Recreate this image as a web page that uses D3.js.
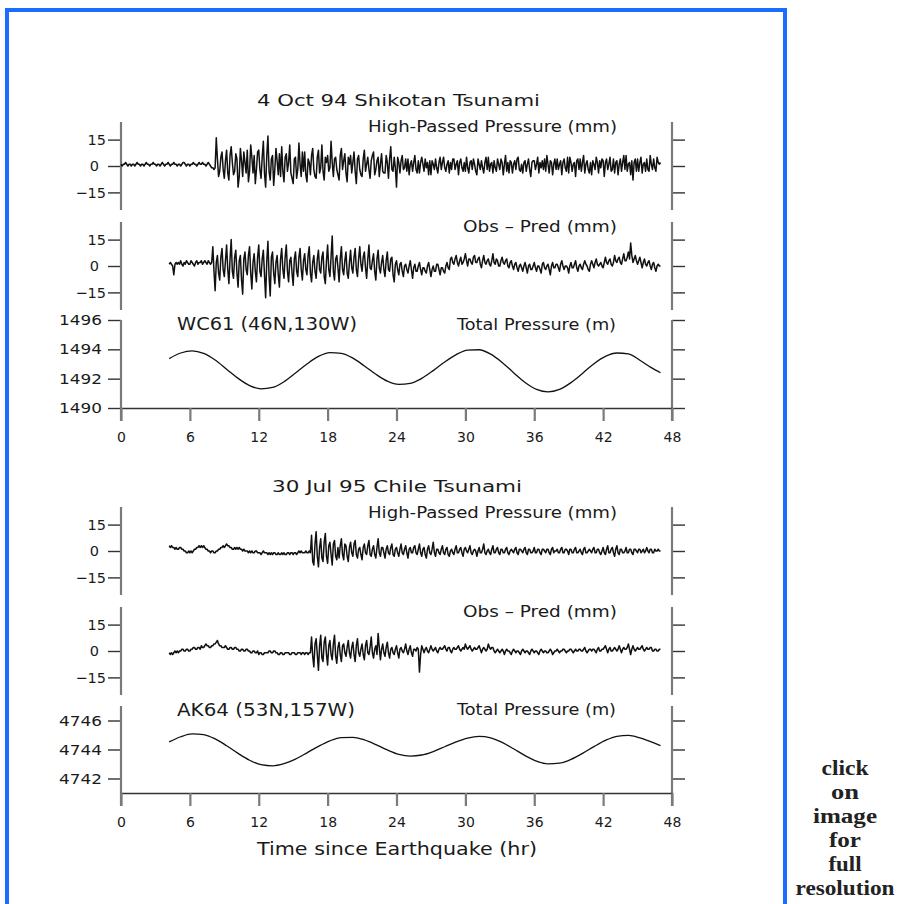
<!DOCTYPE html>
<html>
<head>
<meta charset="utf-8">
<script src="https://cdn.jsdelivr.net/npm/d3@7"></script>
<style>
  body { margin: 0; background: #fff; }
  svg text { font-family: "DejaVu Sans", sans-serif; fill: #1a1a1a; }
</style>
</head>
<body>
<svg id="chart" width="897" height="904"></svg>
<script>
// tick values
var hourTicks = [0, 6, 12, 18, 24, 30, 36, 42, 48];
var mmTicks = [15, 0, -15];
var wcTicks = [1496, 1494, 1492, 1490];
var akTicks = [4746, 4744, 4742];

// hours of the total pressure samples
var tideHours = [4.2, 5.2, 6.2, 7.2, 8.2, 9.2, 10.2, 11.2, 12.2, 13.2, 14.2, 15.2, 16.2, 17.2, 18.2,
  19.2, 20.2, 21.2, 22.2, 23.2, 24.2, 25.2, 26.2, 27.2, 28.2, 29.2, 30.2, 31.2, 32.2, 33.2,
  34.2, 35.2, 36.2, 37.2, 38.2, 39.2, 40.2, 41.2, 42.2, 43.2, 44.2, 45.2, 46.2, 47.0];

// Shikotan, high-passed pressure (mm), every 0.1 h from 0 to 47 h (one row = one hour)
var shikotanHP = [
  1,0,1,1,2,1,0,1,1,0,
  1,1,0,1,2,1,1,0,1,1,
  0,1,2,1,1,0,1,1,2,1,
  1,0,1,1,0,1,2,1,0,1,
  1,2,1,0,1,1,2,1,1,0,
  1,1,0,1,2,2,1,0,1,1,
  0,1,1,2,1,1,0,1,2,1,
  1,2,1,1,0,1,2,1,0,-1,
  -1,-2,-1,16,4,-6,-3,5,8,-2,
  -7,3,9,-4,-8,6,11,2,-5,-3,
  7,4,-12,-6,10,3,-6,8,2,-4,
  9,-9,-3,12,5,-4,6,-10,-2,8,
  9,-2,-7,5,14,-4,-12,6,17,-3,
  -8,4,6,-11,-2,10,3,-5,7,-6,
  11,-3,-9,5,7,-3,2,12,-4,-7,
  -10,4,5,-7,-2,13,1,-6,8,-3,
  8,-5,-9,4,2,-5,6,10,-2,-6,
  -7,5,9,-4,-1,12,-3,-8,5,2,
  6,-3,-1,14,2,-6,4,5,-2,-5,
  -8,6,10,-2,3,7,-4,-9,5,1,
  6,-4,2,8,-3,-10,4,6,-2,-5,
  -6,4,9,-3,1,5,-2,-7,3,6,
  8,-5,-2,3,5,-6,1,7,-3,-4,
  -4,6,2,-7,4,11,-2,-3,5,-1,
  -12,5,2,-4,3,6,-2,-1,4,-3,
  4,-5,1,3,-3,2,6,-2,-4,3,
  -4,2,5,1,-3,4,-1,2,-5,3,
  -5,3,1,-2,4,-1,-4,2,5,-2,
  2,5,-1,-3,1,3,-4,2,-2,4,
  4,-2,1,3,-5,2,4,-1,-3,2,
  -3,5,-1,-4,2,3,-2,4,1,-3,
  -5,4,1,-2,3,-1,-4,2,5,-2,
  5,-3,1,2,-4,3,-1,-3,4,1,
  -2,4,2,-5,1,6,-3,2,-4,3,
  2,-4,1,3,-2,4,5,-2,-3,1,
  -4,2,3,-3,1,4,-2,-6,2,3,
  3,-2,1,5,-4,2,-1,3,-2,4,
  -3,6,1,-4,3,2,-5,1,4,-2,
  4,-2,1,3,-5,2,4,-1,-3,5,
  -4,5,2,-3,1,2,-6,3,4,-2,
  4,-3,2,6,-4,1,3,-2,-4,2,
  -5,3,1,-2,5,2,-4,3,-1,4,
  3,-6,2,4,-2,1,5,-3,-2,4,
  -4,2,3,-5,1,4,-3,2,6,-2,
  6,-3,1,2,-5,3,-8,2,4,-3,
  4,-3,2,5,-4,1,2,-3,4,-2,
  -3,6,1,-2,4,-1,-3,5,2,1,
  2
];

// Shikotan, observed minus predicted (mm), every 0.1 h from 4.2 to 47 h
var shikotanResid = [
  1,2,1,0,-5,1,2,1,
  2,1,3,1,0,2,1,3,2,1,
  1,3,2,1,0,2,3,1,2,2,
  3,1,2,3,2,1,3,2,1,2,
  11,-3,-14,2,6,-4,-8,5,10,-2,
  -6,3,12,-2,-10,4,15,-3,-7,5,
  9,-4,-12,3,6,-8,-16,4,8,-2,
  -5,6,11,-4,-13,2,7,-3,-9,5,
  12,-3,-6,4,9,-5,-18,3,14,-6,
  -17,5,8,-4,-10,2,6,-5,-12,4,
  10,-2,-7,5,12,-3,-9,3,5,-4,
  -11,4,8,-3,-6,5,10,-2,-8,3,
  7,-2,-5,6,11,-4,-9,2,6,-3,
  -7,4,9,-2,-4,5,8,-6,-10,3,
  12,-2,-6,5,17,-3,-8,4,6,-1,
  -9,4,11,-2,-5,3,8,-4,-7,2,
  9,-1,-4,5,10,-2,-6,4,11,1,
  -3,5,8,-1,-7,4,12,-1,-2,3,
  7,-3,-8,4,9,-1,-4,2,6,-2,
  -6,3,8,-2,-3,4,5,-5,-9,1,
  3,-2,-5,1,2,-3,-6,0,1,-2,
  -4,0,3,-2,-7,-1,1,-3,-3,0,
  2,-2,-5,-1,-1,-3,-4,0,2,-2,
  -6,-2,0,-3,-3,1,1,-2,-5,-1,
  -1,-3,-4,0,2,-1,-2,4,5,2,
  1,4,6,2,0,3,5,1,2,4,
  7,3,0,4,4,2,1,5,6,2,
  2,4,5,1,-1,3,6,2,1,3,
  4,1,0,3,7,2,1,4,3,0,
  0,3,5,2,1,3,4,0,-1,2,
  3,0,-2,1,2,-1,-3,0,1,-1,
  -3,0,2,-1,-4,0,1,-2,-2,0,
  2,-1,-3,0,0,-2,-4,1,2,-1,
  -2,0,1,-2,-5,0,2,-1,-1,1,
  1,-1,-3,1,3,0,-2,0,0,-1,
  -4,0,2,-1,-1,1,3,-1,-3,0,
  1,-1,-2,1,3,1,0,-2,-3,1,
  3,1,-1,2,4,1,0,1,2,0,
  -1,2,5,2,1,3,4,1,0,2,
  6,3,2,4,5,2,1,4,7,3,
  3,5,8,4,13,6,2,4,6,3,
  1,3,5,2,-1,2,4,1,0,2,
  3,0,-2,1,2,-1,-3,0,1,0,
  0
];

// WC61 total pressure (m) at tideHours
var wc61Total = [1493.37, 1493.75, 1493.90, 1493.72, 1493.27, 1492.65, 1492.02, 1491.53, 1491.31,
  1491.40, 1491.79, 1492.38, 1493.00, 1493.52, 1493.78, 1493.73, 1493.40, 1492.87, 1492.30,
  1491.83, 1491.61, 1491.68, 1492.02, 1492.55, 1493.14, 1493.64, 1493.95, 1493.97, 1493.67,
  1493.11, 1492.41, 1491.74, 1491.27, 1491.10, 1491.27, 1491.73, 1492.36, 1493.02, 1493.52,
  1493.75, 1493.69, 1493.26, 1492.75, 1492.40];

// Chile, high-passed pressure (mm), every 0.1 h from 4.2 to 47 h
var chileHP = [
  3,2,3,2,2,1,2,1,
  1,2,2,1,1,0,0,-1,-1,0,
  -1,0,-1,0,1,1,2,2,3,2,
  3,2,3,2,1,1,0,0,-1,0,
  0,-1,-1,0,0,1,1,2,2,3,
  2,3,4,3,3,2,2,1,1,2,
  1,2,1,2,1,1,0,1,0,0,
  0,-1,0,-1,0,-1,-1,0,0,-1,
  -1,-1,-2,-1,0,-1,-1,-1,-2,-1,
  -2,-1,-2,-1,-1,-2,-2,-1,-2,-2,
  -1,-2,-1,-2,-2,-1,-1,-2,-1,-1,
  -2,-1,-1,-2,-1,0,-1,0,-1,-1,
  -1,0,-1,-1,0,-1,9,-6,-8,4,
  11,-3,-9,2,7,-4,-6,5,10,-3,
  -7,3,5,-2,-8,4,6,-3,-5,2,
  -4,3,7,-2,-5,4,3,-3,-6,2,
  5,-1,-3,4,6,-2,-4,1,2,-2,
  -5,2,4,-1,-2,3,6,-2,-3,1,
  3,-2,-4,2,7,-1,-3,2,2,-1,
  -4,1,3,-1,-2,2,4,-2,-3,1,
  2,-1,-3,1,4,-1,-2,1,3,-1,
  -4,1,2,-1,-1,2,3,-1,-2,1,
  4,-1,-3,1,2,-2,-4,1,3,-1,
  -2,1,5,-1,-3,1,1,-1,-2,1,
  3,-1,-2,1,2,-2,-3,0,1,-1,
  -2,1,3,-1,-1,1,2,-1,-3,1,
  2,0,-1,1,3,-1,-2,0,1,0,
  -3,0,2,-1,-1,1,4,-1,-2,0,
  1,-1,-2,1,3,-1,-1,1,2,-1,
  -2,1,1,-1,-1,1,2,-1,-2,0,
  1,0,-1,1,2,-1,-2,1,1,0,
  -1,1,2,-1,-2,1,1,-1,-1,0,
  2,-1,-1,1,1,-1,-2,1,1,0,
  -1,1,1,-1,-2,1,2,-1,0,0,
  1,-1,-1,1,2,-1,-1,1,1,0,
  -2,1,1,-1,-1,1,2,-1,-1,0,
  1,-1,-2,1,2,-1,-1,0,1,0,
  -1,1,2,-1,-1,1,1,-1,-2,0,
  2,-1,-2,1,3,-1,-1,1,2,-1,
  -3,1,3,-1,-2,1,1,-1,-1,0,
  2,-1,-1,1,1,-1,-2,1,1,0,
  -1,1,1,-1,0,1,-1,0,2,0,
  -1,1,1,-1,-1,1,0,0,1,0,
  0
];

// Chile, observed minus predicted (mm), every 0.1 h from 4.2 to 47 h
var chileResid = [
  -1,-2,-1,-2,-1,0,-1,0,
  -1,0,0,1,1,0,0,1,1,0,
  0,1,1,2,2,1,1,2,2,1,
  3,2,2,3,4,3,3,2,2,3,
  3,4,4,5,6,4,3,3,2,2,
  2,3,2,1,1,2,2,1,1,2,
  2,1,1,0,0,1,1,0,0,1,
  1,0,0,-1,-1,0,0,-1,-1,0,
  -2,-1,-1,-2,-2,-1,-1,-1,-1,0,
  0,-1,-1,0,0,-1,-1,-2,-2,-1,
  -1,-2,-2,-1,-1,-1,-1,-2,-2,-1,
  -1,-1,-2,-2,-1,-1,-1,-2,-1,-1,
  -2,-1,-1,-2,-1,-1,8,-3,-9,4,
  7,-2,-11,3,9,-4,-6,5,8,-2,
  -8,3,6,-2,-5,4,9,-3,-7,2,
  5,-2,-6,3,4,-1,-3,2,6,-1,
  -4,2,5,-2,-6,3,7,-1,-3,1,
  4,-2,-5,3,6,-1,-2,2,8,-1,
  -4,1,3,-2,10,2,-5,1,4,-1,
  -3,2,5,-1,-4,1,2,-1,-2,1,
  3,-1,-4,1,2,0,-1,1,4,0,
  -2,1,3,-1,-3,1,1,0,2,1,
  -12,-2,3,1,-1,1,2,0,-1,1,
  3,1,0,1,2,0,-1,1,2,1,
  1,2,3,1,0,2,2,0,-1,1,
  2,1,1,2,3,1,0,1,2,1,
  4,2,1,2,3,1,0,1,2,1,
  1,2,3,1,-1,1,2,1,0,1,
  4,2,1,2,2,0,-1,0,1,0,
  -1,0,1,0,-2,0,1,0,0,-1,
  -2,0,1,0,-1,0,0,-1,-2,0,
  1,0,-1,0,0,-1,-2,0,1,0,
  -1,0,0,-1,-2,0,1,0,-1,0,
  0,-1,-1,0,1,0,-2,-1,0,0,
  1,0,-1,0,0,1,1,0,-1,0,
  0,1,1,0,-1,0,1,0,0,1,
  1,0,0,1,2,0,-1,0,1,1,
  0,1,1,0,-1,1,2,0,0,1,
  1,2,3,1,-1,1,2,0,0,1,
  2,1,0,1,3,1,-1,1,2,1,
  1,2,4,1,-2,1,3,1,0,1,
  2,1,1,2,3,1,0,1,2,1,
  1,2,2,0,0,1,1,0,0,1,
  1
];

// AK64 total pressure (m) at tideHours
var ak64Total = [4744.52, 4744.88, 4745.08, 4745.03, 4744.73, 4744.26, 4743.73, 4743.26, 4742.95,
  4742.87, 4743.02, 4743.34, 4743.77, 4744.22, 4744.60, 4744.82, 4744.84, 4744.66, 4744.34,
  4743.97, 4743.67, 4743.55, 4743.62, 4743.86, 4744.19, 4744.53, 4744.79, 4744.90, 4744.80,
  4744.49, 4744.05, 4743.58, 4743.20, 4743.01, 4743.06, 4743.32, 4743.73, 4744.20, 4744.63,
  4744.91, 4744.97, 4744.80, 4744.52, 4744.27];

var svg = d3.select("#chart");

var x = d3.scaleLinear().domain([0, 48]).range([121, 672]);

// blue frame round the image
svg.append("path")
  .attr("d", "M7,906V10H785V906")
  .attr("fill", "none")
  .attr("stroke", "#1a6dff")
  .attr("stroke-width", 4);

function evenHours(values, t0, t1) {
  var step = (t1 - t0) / (values.length - 1);
  return values.map(function(v, i) { return [t0 + i * step, v]; });
}

function atHours(values) {
  return values.map(function(v, i) { return [tideHours[i], v]; });
}

var panels = [
  {data: evenHours(shikotanHP, 0, 47), domain: [-25, 25], top: 122, bottom: 210, ticks: mmTicks},
  {data: evenHours(shikotanResid, 4.2, 47), domain: [-25, 25], top: 222, bottom: 310, ticks: mmTicks},
  {data: atHours(wc61Total), domain: [1490, 1496], top: 320, bottom: 408, ticks: wcTicks, smooth: true, xAxis: true},
  {data: evenHours(chileHP, 4.2, 47), domain: [-25, 25], top: 507, bottom: 595, ticks: mmTicks},
  {data: evenHours(chileResid, 4.2, 47), domain: [-25, 25], top: 607, bottom: 695, ticks: mmTicks},
  {data: atHours(ak64Total), domain: [4741, 4747], top: 706, bottom: 793, ticks: akTicks, smooth: true, xAxis: true}
];

function fmt(d) {
  return d < 0 ? "\u2212" + Math.abs(d) : String(d);
}

panels.forEach(function(p) {
  var y = d3.scaleLinear().domain(p.domain).range([p.bottom, p.top]);
  var wide = p.ticks[0] > 100;
  var axisEnd = p.xAxis ? p.bottom + 13 : p.bottom;

  var left = svg.append("g")
    .attr("transform", "translate(121,0)")
    .call(d3.axisLeft(y).tickValues(p.ticks).tickSize(13).tickSizeOuter(0)
      .tickPadding(wide ? 6 : 2).tickFormat(fmt))
    .attr("font-family", "DejaVu Sans")
    .attr("font-size", 14.5);
  left.select(".domain").remove();
  left.selectAll(".tick line").attr("stroke", "#333").attr("stroke-width", 1.4);
  left.selectAll(".tick text").attr("fill", "#1a1a1a");
  if (wide) {
    left.selectAll(".tick text").attr("textLength", 43).attr("lengthAdjust", "spacingAndGlyphs");
  } else {
    left.selectAll(".tick text").filter(function(d) { return d === 0; }).attr("dx", -7);
  }

  var right = svg.append("g")
    .attr("transform", "translate(672,0)")
    .call(d3.axisRight(y).tickValues(p.ticks).tickSize(13).tickSizeOuter(0).tickFormat(""));
  right.select(".domain").remove();
  right.selectAll(".tick line").attr("stroke", "#333").attr("stroke-width", 1.4);

  [121, 672].forEach(function(ax) {
    svg.append("line")
      .attr("x1", ax).attr("x2", ax)
      .attr("y1", p.top).attr("y2", axisEnd)
      .attr("stroke", "#7a7a7a")
      .attr("stroke-width", 2.2);
  });

  if (p.xAxis) {
    var bottom = svg.append("g")
      .attr("transform", "translate(0," + p.bottom + ")")
      .call(d3.axisBottom(x).tickValues(hourTicks).tickSize(13).tickSizeOuter(0).tickPadding(11))
      .attr("font-family", "DejaVu Sans")
      .attr("font-size", 14);
    bottom.select(".domain").attr("stroke", "#333").attr("stroke-width", 1.4);
    bottom.selectAll(".tick line").attr("stroke", "#7a7a7a").attr("stroke-width", 2.2);
    bottom.selectAll(".tick text").attr("fill", "#1a1a1a");
  }

  var line = d3.line()
    .x(function(d) { return x(d[0]); })
    .y(function(d) { return y(d[1]); });
  if (p.smooth) line.curve(d3.curveMonotoneX);

  svg.append("path")
    .datum(p.data)
    .attr("d", line)
    .attr("fill", "none")
    .attr("stroke", "#111")
    .attr("stroke-width", p.smooth ? 1.3 : 1.5)
    .attr("stroke-linejoin", "round");
});

// titles and panel labels
var labels = [
  {text: "4 Oct 94 Shikotan Tsunami", x: 257, y: 106, size: 16.5, len: 283},
  {text: "High-Passed Pressure (mm)", x: 368, y: 132, size: 15, len: 249},
  {text: "Obs \u2013 Pred (mm)", x: 463, y: 231.5, size: 15, len: 154},
  {text: "WC61 (46N,130W)", x: 177, y: 329.5, size: 17, len: 180},
  {text: "Total Pressure (m)", x: 457, y: 330, size: 15, len: 159},
  {text: "30 Jul 95 Chile Tsunami", x: 272, y: 491.5, size: 16.5, len: 250},
  {text: "High-Passed Pressure (mm)", x: 368, y: 518, size: 15, len: 249},
  {text: "Obs \u2013 Pred (mm)", x: 463, y: 616.5, size: 15, len: 154},
  {text: "AK64 (53N,157W)", x: 177, y: 715.5, size: 17, len: 178},
  {text: "Total Pressure (m)", x: 457, y: 715, size: 15, len: 159},
  {text: "Time since Earthquake (hr)", x: 257, y: 855, size: 17, len: 280}
];

svg.selectAll("text.label")
  .data(labels)
  .join("text")
  .attr("class", "label")
  .attr("x", function(d) { return d.x; })
  .attr("y", function(d) { return d.y; })
  .attr("font-size", function(d) { return d.size; })
  .attr("textLength", function(d) { return d.len; })
  .attr("lengthAdjust", "spacingAndGlyphs")
  .text(function(d) { return d.text; });

// note beside the frame
var noteLines = [
  {text: "click", len: 47},
  {text: "on", len: 28},
  {text: "image", len: 64},
  {text: "for", len: 32},
  {text: "full", len: 33},
  {text: "resolution", len: 99}
];

svg.selectAll("text.note")
  .data(noteLines)
  .join("text")
  .attr("class", "note")
  .attr("x", 845)
  .attr("y", function(d, i) { return 775 + i * 24; })
  .attr("text-anchor", "middle")
  .attr("font-size", 20)
  .attr("font-weight", "bold")
  .style("font-family", "'Liberation Serif', serif")
  .style("fill", "#222")
  .attr("textLength", function(d) { return d.len; })
  .attr("lengthAdjust", "spacingAndGlyphs")
  .text(function(d) { return d.text; });
</script>
</body>
</html>
